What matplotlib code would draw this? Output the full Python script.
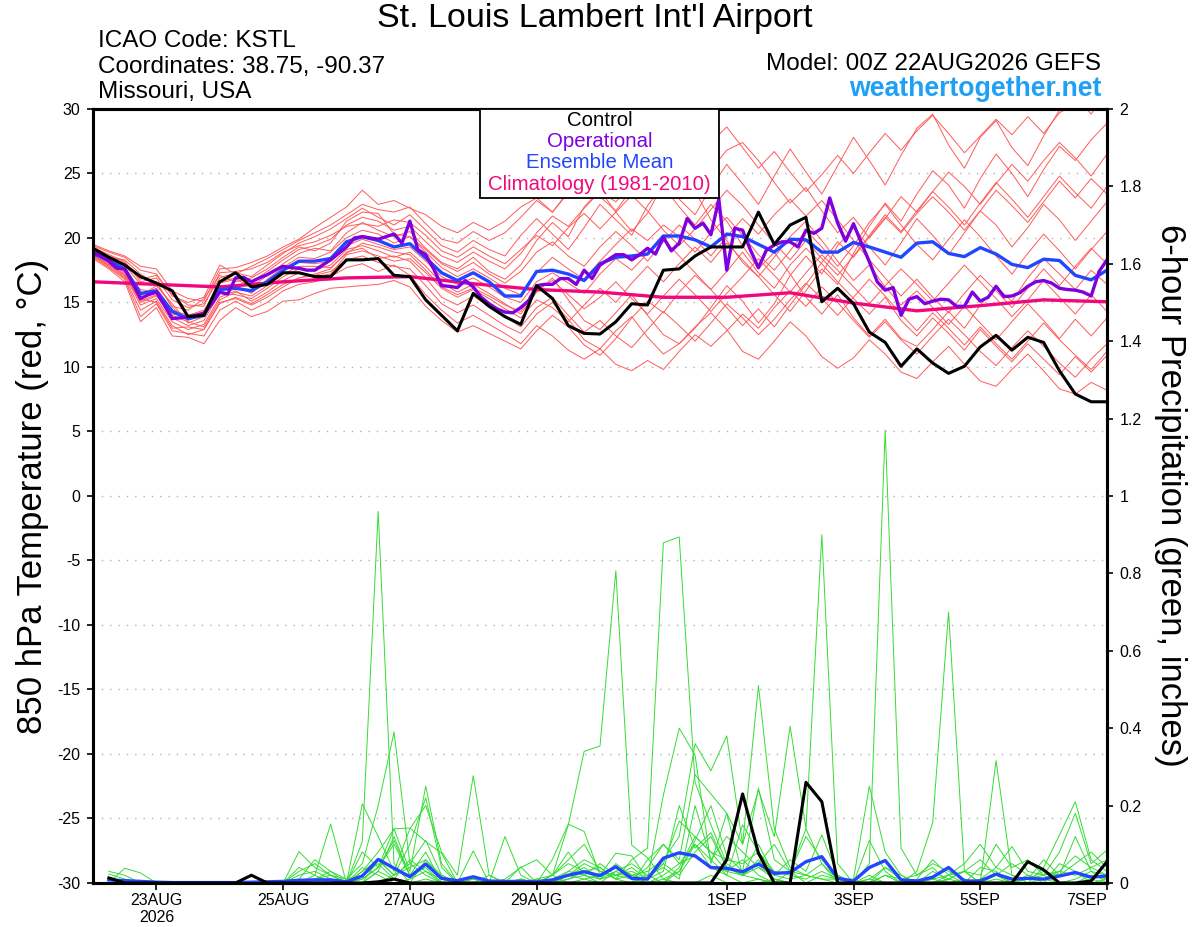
import matplotlib
matplotlib.use('Agg')
import matplotlib.pyplot as plt
from matplotlib.patches import Rectangle

plt.rcParams['font.family'] = ['Liberation Sans', 'DejaVu Sans']
plt.rcParams['axes.unicode_minus'] = False

# forecast hours after 00Z 22AUG2026
temp_hours = list(range(0, 385, 6))
oper_hours = list(range(0, 385, 3))
clim_hours = list(range(0, 385, 24))
precip_hours = list(range(6, 385, 6))

control_temp = [19.2, 18.5, 17.9, 17.0, 16.5, 15.9, 13.9, 14.0, 16.6, 17.3, 16.2, 16.4, 17.3,
                17.3, 17.0, 17.0, 18.3, 18.3, 18.4, 17.1, 17.0, 15.2, 14.0, 12.8, 15.7, 14.7,
                13.9, 13.3, 16.3, 15.3, 13.2, 12.6, 12.55, 13.5, 14.9, 14.8, 17.5, 17.6, 18.6,
                19.3, 19.3, 19.3, 22.0, 19.5, 21.0, 21.6, 15.05, 16.1, 14.9, 12.7, 11.9, 10.05,
                11.4, 10.3, 9.5, 10.05, 11.55, 12.45, 11.3, 12.3, 11.9, 9.7, 7.9, 7.3, 7.3]

mean_temp = [18.8, 18.25, 17.6, 15.7, 15.9, 14.3, 13.75, 14.0, 16.0, 16.1, 15.9, 16.6, 17.5,
             18.2, 18.2, 18.4, 19.7, 20.1, 19.8, 19.3, 19.55, 18.45, 17.3, 16.7, 17.3, 16.6,
             15.5, 15.5, 17.4, 17.5, 17.2, 16.7, 18.0, 18.5, 18.6, 18.75, 20.15, 20.15, 19.85,
             19.3, 20.3, 20.1, 19.5, 18.9, 19.9, 19.85, 18.9, 18.9, 19.65, 19.3, 18.9, 18.5,
             19.6, 19.7, 18.8, 18.55, 19.25, 18.75, 17.95, 17.7, 18.35, 18.25, 17.1, 16.75, 17.5]

oper_temp = [18.9, 18.6, 18.2, 17.65, 17.6, 16.5, 15.3, 15.6, 15.8, 14.8, 13.75, 13.8, 13.9,
             14.0, 14.15, 14.9, 15.8, 15.65, 16.9, 16.95, 16.6, 16.9, 17.15, 17.5, 17.8, 17.7,
             17.65, 17.5, 17.5, 17.9, 18.3, 18.8, 19.3, 20.0, 20.1, 20.0, 19.9, 20.1, 20.3,
             19.6, 21.3, 19.1, 18.7,
             17.6, 16.3, 16.25, 16.15, 16.7, 16.2, 15.4, 14.9, 14.5, 14.25, 14.2, 14.6, 15.15,
             16.3, 16.4, 16.4, 16.85, 16.85, 16.4, 17.5, 16.85, 17.9, 18.3, 18.7, 18.7, 18.3,
             18.7, 19.2, 18.75, 20.05, 19.0, 19.6, 21.5, 20.75, 21.15, 20.25, 23.0, 17.5, 20.75,
             20.6, 19.05, 17.7,
             19.05, 19.45, 19.7, 19.7, 19.3, 20.6, 20.35, 20.75, 23.1, 21.15, 19.75, 21.1, 19.6,
             18.15, 16.6, 15.95, 16.15, 14.0, 15.25, 15.45, 14.9, 15.1, 15.25, 15.2, 14.7, 14.7,
             15.8, 15.1, 15.4, 16.25, 15.45, 15.5, 15.75, 16.25, 16.6, 16.7, 16.5, 16.1, 16.0,
             15.95, 15.8, 15.5, 17.4, 18.3]

clim_temp = [16.6, 16.4, 16.2, 16.6, 16.9, 17.0, 16.45, 16.0, 15.8, 15.4, 15.4, 15.75, 14.95,
             14.35, 14.75, 15.2, 15.05]

member_temps = [
    [19.3, 18.7, 18.2, 16.6, 16.9, 15.2, 14.6, 14.9, 16.9, 17.3, 17.0, 17.9, 18.8,
     19.6, 20.1, 20.7, 21.5, 22.3, 21.6, 21.0, 21.8, 20.6, 19.4, 18.9, 19.8, 19.1,
     18.6, 20.2, 21.5, 20.3, 19.1, 20.8, 22.6, 21.4, 20.2, 22.5, 24.1, 23.0, 21.8,
     23.9, 25.7, 24.2, 22.6, 24.8, 26.9, 25.1, 23.4, 25.6, 27.8, 26.0, 24.1, 26.4,
     28.5, 29.6, 27.2, 25.4, 27.8, 29.1, 27.0, 25.6, 27.9, 29.9, 31.0, 29.6, 31.5],
    [18.6, 17.8, 16.9, 14.4, 15.1, 13.2, 12.5, 12.9, 15.0, 15.3, 14.8, 15.4, 16.2,
     16.9, 17.1, 17.4, 18.3, 18.6, 18.1, 17.8, 17.6, 16.3, 14.9, 14.2, 14.8, 14.0,
     13.2, 12.6, 14.1, 15.0, 13.7, 12.1, 11.4, 12.8, 13.9, 12.3, 11.0, 11.8, 13.1,
     14.2, 12.9, 11.2, 10.6, 12.0, 13.5, 12.4, 10.8, 9.9, 10.7, 12.1, 11.0, 9.6,
     9.1, 10.4, 11.6, 10.2, 8.9, 8.5, 9.8, 11.0, 9.7, 8.3, 7.9, 8.8, 8.2],
    [19.0, 18.4, 17.8, 15.5, 16.3, 14.9, 13.4, 13.9, 16.5, 16.8, 16.2, 17.1, 18.0,
     18.8, 19.2, 19.0, 20.4, 21.2, 20.6, 20.1, 20.5, 19.2, 18.1, 17.6, 18.5, 17.4,
     16.8, 17.9, 19.8, 21.2, 20.1, 22.4, 23.7, 22.0, 20.5, 21.9, 24.2, 25.1, 23.6,
     21.4, 19.8, 18.1, 17.0, 15.6, 14.3, 15.9, 17.6, 16.4, 18.8, 20.9, 22.7, 21.3,
     23.4, 25.2, 24.1, 22.3, 24.6, 26.5, 25.0, 23.2, 25.3, 27.1, 26.0, 27.6, 28.9],
    [18.7, 18.1, 17.3, 15.1, 15.6, 13.8, 13.2, 13.6, 15.7, 15.6, 15.3, 16.1, 17.0,
     17.6, 17.5, 17.9, 19.1, 19.4, 19.0, 18.5, 18.9, 17.8, 16.5, 15.8, 16.4, 15.7,
     14.9, 14.1, 15.8, 16.9, 15.2, 13.6, 12.9, 14.2, 15.6, 14.0, 12.5, 11.8, 13.0,
     14.6, 16.3, 15.1, 13.4, 14.9, 17.1, 18.6, 17.2, 19.4, 20.8, 19.3, 17.9, 19.6,
     21.5, 20.2, 18.7, 20.4, 22.1, 21.0, 19.3, 20.8, 22.6, 21.4, 19.8, 21.3, 22.8],
    [19.5, 19.0, 18.6, 17.8, 17.6, 15.9, 15.3, 15.1, 17.6, 17.7, 18.1, 18.6, 19.3,
     19.9, 20.8, 21.6, 22.4, 23.7, 22.6, 22.9, 22.3, 21.8, 20.9, 20.4, 21.2, 20.6,
     21.3, 22.4, 23.1, 22.0, 23.6, 24.6, 23.2, 22.1, 23.8, 25.0, 24.0, 22.4, 21.0,
     22.6, 21.3, 19.4, 17.6, 18.9, 17.2, 15.4, 14.1, 15.6, 13.8, 12.4, 13.7, 12.2,
     11.6, 12.9, 14.3, 13.0, 14.8, 16.2, 15.1, 16.9, 18.4, 17.2, 16.0, 17.5, 16.4],
    [18.4, 17.6, 16.6, 13.5, 14.6, 12.4, 12.3, 11.8, 13.6, 14.6, 13.9, 14.3, 15.1,
     15.2, 15.7, 16.1, 16.2, 16.3, 16.4, 16.7, 16.2, 14.7, 13.6, 12.7, 13.2, 12.6,
     12.0, 11.4, 12.8, 14.0, 13.1, 11.7, 10.9, 12.2, 13.8, 15.1, 14.2, 15.8, 17.1,
     16.0, 17.4, 18.9, 17.3, 16.1, 17.9, 19.2, 18.0, 16.6, 15.3, 14.1, 15.4, 13.6,
     12.4, 13.8, 12.6, 11.3, 12.9, 11.6, 10.4, 11.8, 10.6, 9.4, 10.8, 9.6, 10.9],
    [18.9, 18.3, 17.5, 16.0, 15.8, 14.1, 13.9, 14.3, 16.2, 16.3, 15.7, 16.8, 17.7,
     18.5, 18.4, 18.9, 20.0, 20.6, 20.3, 19.6, 20.1, 18.9, 17.7, 17.0, 17.6, 16.9,
     16.1, 15.6, 17.3, 18.5, 17.6, 16.8, 18.2, 19.5, 20.7, 19.8, 21.0, 20.1, 18.9,
     20.4, 21.6, 20.2, 18.7, 17.5, 19.0, 20.6, 19.3, 17.8, 19.4, 21.2, 22.6, 21.0,
     19.5, 18.3, 19.9, 21.4, 20.1, 18.6, 17.2, 18.8, 20.3, 19.0, 17.6, 19.1, 20.5],
    [19.1, 18.5, 17.9, 16.4, 16.6, 14.6, 13.6, 14.1, 16.6, 16.9, 16.6, 17.4, 18.3,
     19.1, 19.4, 19.9, 21.0, 21.6, 21.3, 20.6, 20.9, 19.7, 18.6, 18.1, 18.9, 18.2,
     17.6, 18.8, 20.4, 21.7, 20.9, 22.3, 23.6, 22.8, 24.1, 25.2, 24.0, 25.6, 26.4,
     25.3, 26.8, 27.4, 26.0, 24.3, 22.7, 23.9, 22.1, 20.4, 21.6, 20.0, 21.5, 23.2,
     22.0, 23.6, 25.1, 24.0, 22.6, 24.2, 25.7, 24.4, 26.0, 27.4, 26.2, 24.8, 26.5],
    [18.5, 17.7, 16.8, 13.9, 14.9, 12.8, 12.6, 12.4, 14.4, 15.1, 14.4, 15.0, 15.9,
     16.4, 16.6, 17.0, 17.7, 18.0, 17.4, 17.9, 17.1, 15.6, 14.4, 13.4, 14.0, 13.3,
     12.6, 11.8, 13.2, 12.4, 11.3, 10.6, 11.4, 10.2, 9.7, 10.5, 9.8, 11.2, 12.5,
     11.6, 12.8, 14.1, 13.0, 14.6, 15.9, 14.7, 16.2, 15.0, 13.6, 12.3, 13.5, 12.1,
     11.0, 12.4, 13.7, 12.5, 11.2, 10.1, 11.5, 12.8, 11.6, 10.3, 9.2, 10.6, 11.8],
    [18.8, 18.0, 17.1, 14.8, 15.3, 13.5, 12.9, 13.3, 15.4, 15.9, 15.1, 15.8, 16.7,
     17.3, 17.0, 17.2, 18.7, 19.0, 18.6, 18.2, 18.4, 17.3, 16.1, 15.4, 16.0, 15.3,
     14.5, 13.8, 15.2, 14.6, 13.5, 14.8, 16.1, 15.0, 16.5, 17.8, 16.6, 18.0, 19.3,
     18.1, 19.6, 18.3, 17.0, 18.5, 20.1, 21.3, 19.8, 18.2, 16.7, 17.9, 16.2, 14.8,
     15.9, 14.6, 13.3, 14.7, 13.4, 12.1, 13.5, 14.9, 13.6, 12.2, 13.7, 12.4, 13.8],
    [19.2, 18.6, 18.1, 16.8, 17.1, 15.6, 14.8, 14.7, 17.3, 17.4, 17.6, 18.1, 18.9,
     19.4, 19.7, 20.2, 20.9, 21.1, 20.9, 21.4, 21.2, 20.2, 19.0, 18.5, 19.3, 18.6,
     18.0, 19.1, 20.2, 19.4, 20.8, 21.9, 20.7, 22.0, 23.3, 22.1, 20.6, 19.4, 20.7,
     22.2, 23.7, 22.5, 21.0, 19.6, 18.3, 19.8, 18.4, 17.1, 18.6, 20.2, 21.8, 20.5,
     22.1, 23.6, 22.4, 21.0, 22.7, 24.3, 23.0, 21.6, 23.2, 24.8, 23.5, 22.3, 24.0],
    [18.6, 17.9, 17.0, 15.3, 15.0, 13.0, 13.1, 12.9, 14.9, 15.4, 14.9, 15.6, 16.4,
     16.9, 17.2, 17.6, 18.9, 19.2, 18.4, 18.6, 18.2, 16.9, 15.4, 14.8, 15.5, 14.7,
     13.9, 13.1, 14.6, 15.4, 14.0, 12.7, 13.6, 12.4, 11.5, 12.9, 14.3, 13.2, 12.0,
     13.4, 14.9, 13.8, 12.5, 13.7, 15.2, 16.5, 15.3, 14.0, 15.4, 16.8, 15.5, 14.1,
     12.8, 14.2, 13.0, 11.7, 13.1, 11.8, 10.6, 12.0, 13.4, 12.1, 10.9, 9.8, 11.2],
    [18.9, 18.2, 17.4, 15.6, 16.1, 14.4, 14.0, 14.4, 16.3, 16.0, 16.0, 16.6, 17.5,
     18.1, 18.0, 18.2, 19.4, 19.9, 19.5, 19.1, 19.3, 18.2, 17.0, 16.4, 16.9, 16.2,
     15.4, 15.0, 16.6, 17.3, 16.5, 15.7, 17.2, 18.4, 17.5, 18.8, 19.9, 18.6, 17.3,
     16.0, 14.6, 13.2, 14.5, 13.1, 14.8, 16.4, 18.1, 19.7, 18.5, 20.1, 21.6, 20.4,
     21.9, 23.2, 22.0, 20.6, 22.1, 23.7, 22.5, 21.2, 22.8, 24.4, 23.1, 24.6, 23.4],
    [19.0, 18.5, 18.3, 17.2, 16.4, 14.7, 14.4, 15.3, 17.1, 16.6, 16.9, 17.6, 18.5,
     19.3, 19.0, 19.6, 21.3, 22.0, 21.9, 20.3, 20.1, 19.1, 18.0, 17.4, 18.1, 17.2,
     16.5, 17.4, 18.9, 19.7, 18.6, 17.8, 19.3, 20.5, 19.4, 18.2, 19.7, 21.0, 19.9,
     18.6, 20.1, 21.5, 20.3, 21.8, 23.0, 21.7, 22.9, 21.4, 19.8, 18.3, 16.9, 15.5,
     16.8, 15.4, 14.2, 15.7, 17.1, 15.9, 14.6, 16.1, 17.6, 16.3, 17.8, 19.2, 18.0],
    [19.4, 18.9, 18.5, 17.5, 17.2, 15.5, 15.0, 15.4, 17.9, 17.2, 17.8, 18.4, 19.1,
     19.8, 20.4, 21.0, 21.8, 22.6, 22.2, 22.0, 22.4, 21.1, 19.9, 19.6, 20.5, 19.8,
     20.4, 21.6, 22.9, 22.0, 23.5, 24.8, 23.7, 25.1, 26.3, 25.0, 26.6, 27.5, 26.2,
     27.4, 28.6, 27.0, 25.4, 26.7, 25.1, 23.6, 24.9, 26.4, 25.0, 26.6, 28.1, 26.8,
     28.3, 29.5, 28.1, 26.6, 27.9, 29.2, 28.0, 29.4, 28.1, 29.7, 30.4, 31.2, 32.0],
    [18.7, 17.9, 17.2, 15.0, 15.5, 14.0, 13.5, 13.1, 15.2, 15.8, 15.5, 16.3, 17.2,
     17.8, 17.8, 17.7, 18.8, 19.6, 19.3, 18.9, 18.7, 17.5, 16.2, 15.6, 16.1, 15.5,
     14.8, 14.3, 15.9, 16.7, 15.6, 14.5, 15.4, 16.6, 15.3, 14.1, 15.5, 16.8, 15.6,
     14.3, 15.7, 17.0, 18.4, 17.1, 15.8, 17.3, 18.7, 17.5, 16.2, 14.9, 16.3, 17.6,
     16.4, 15.1, 16.5, 17.9, 16.6, 15.3, 13.9, 15.2, 16.7, 15.4, 14.1, 15.6, 14.3],
]

control_precip = [0.013, 0, 0, 0, 0, 0, 0, 0, 0, 0.02, 0, 0, 0, 0, 0, 0,
                  0, 0.003, 0.01, 0, 0, 0, 0, 0, 0, 0, 0, 0, 0, 0, 0, 0,
                  0, 0, 0, 0, 0, 0, 0, 0.06, 0.23, 0.077, 0, 0, 0.26, 0.21, 0, 0,
                  0, 0, 0, 0, 0, 0, 0, 0, 0, 0, 0.055, 0.034, 0, 0, 0.005, 0.055]

mean_precip = [0.008, 0.006, 0.004, 0.002, 0.001, 0.001, 0.001, 0.001, 0.001, 0.002, 0.003, 0.004, 0.007, 0.008, 0.008, 0.003,
               0.018, 0.061, 0.038, 0.016, 0.049, 0.012, 0.006, 0.016, 0.005, 0.004, 0.004, 0.003, 0.008, 0.02, 0.029, 0.019,
               0.042, 0.012, 0.01, 0.064, 0.078, 0.07, 0.04, 0.038, 0.029, 0.049, 0.025, 0.027, 0.055, 0.068, 0.012, 0.005,
               0.04, 0.058, 0.008, 0.005, 0.015, 0.04, 0.005, 0.005, 0.023, 0.01, 0.012, 0.01, 0.018, 0.027, 0.015, 0.018]

member_precip = [
    [0, 0, 0, 0, 0, 0, 0, 0, 0, 0, 0, 0, 0.02, 0.03, 0.01, 0,
     0.107, 0.96, 0.05, 0, 0.01, 0, 0, 0, 0, 0, 0, 0, 0.01, 0.03, 0.02, 0,
     0, 0, 0, 0.02, 0.05, 0.1, 0.04, 0.02, 0, 0, 0.01, 0, 0, 0, 0, 0,
     0, 0, 0, 0, 0, 0.01, 0.03, 0, 0, 0, 0, 0, 0, 0, 0.02, 0.01],
    [0.023, 0.01, 0, 0, 0, 0, 0, 0, 0, 0, 0, 0, 0, 0.01, 0.02, 0.01,
     0.05, 0.2, 0.39, 0.05, 0.02, 0, 0, 0.01, 0, 0, 0, 0, 0, 0.02, 0.01, 0,
     0.03, 0.01, 0, 0, 0.04, 0.12, 0.08, 0.03, 0.06, 0.02, 0, 0, 0, 0, 0, 0,
     0, 0.02, 0.01, 0, 0, 0, 0, 0, 0, 0, 0, 0.01, 0, 0, 0, 0],
    [0, 0.038, 0.026, 0, 0, 0, 0, 0, 0, 0, 0, 0, 0, 0, 0, 0,
     0.03, 0.08, 0.14, 0.03, 0.25, 0.05, 0, 0, 0, 0, 0.01, 0, 0.02, 0.15, 0.34, 0.354,
     0.807, 0.098, 0.065, 0.01, 0, 0, 0.02, 0, 0, 0.01, 0, 0, 0, 0, 0, 0,
     0, 0, 0, 0, 0, 0, 0, 0, 0, 0, 0, 0, 0, 0, 0, 0.01],
    [0, 0, 0, 0, 0, 0, 0, 0, 0, 0, 0, 0, 0, 0, 0, 0,
     0, 0.06, 0.02, 0.1, 0.22, 0.04, 0, 0, 0, 0, 0, 0, 0, 0.02, 0.05, 0.03,
     0.01, 0.06, 0.09, 0.879, 0.894, 0.26, 0.15, 0.05, 0.02, 0.04, 0.01, 0, 0, 0, 0, 0,
     0, 0, 0, 0, 0, 0, 0, 0.01, 0.02, 0, 0, 0, 0, 0, 0, 0],
    [0, 0, 0, 0, 0, 0, 0, 0, 0, 0, 0, 0, 0.081, 0.04, 0.02, 0,
     0.204, 0.12, 0.03, 0.14, 0.2, 0.08, 0.02, 0.277, 0.02, 0, 0, 0, 0.061, 0.152, 0.133, 0.02,
     0.077, 0.07, 0.01, 0.227, 0.40, 0.33, 0.05, 0.18, 0.02, 0.01, 0, 0.03, 0, 0, 0, 0,
     0, 0, 0, 0, 0, 0.02, 0, 0.04, 0.03, 0, 0, 0, 0.05, 0.03, 0, 0],
    [0, 0, 0, 0, 0, 0, 0, 0, 0, 0, 0, 0, 0, 0.01, 0.03, 0.01,
     0.02, 0.05, 0.01, 0, 0.06, 0.02, 0, 0.01, 0, 0.12, 0.02, 0, 0, 0.03, 0.06, 0.04,
     0.01, 0.02, 0.03, 0.06, 0.12, 0.36, 0.29, 0.38, 0.1, 0.51, 0.14, 0.04, 0.02, 0.01, 0, 0,
     0, 0, 0, 0, 0, 0, 0.01, 0, 0, 0, 0, 0, 0, 0.01, 0.03, 0.02],
    [0, 0, 0, 0, 0, 0, 0, 0, 0, 0, 0, 0, 0, 0, 0, 0,
     0, 0.03, 0.12, 0.02, 0.04, 0, 0, 0, 0, 0, 0, 0.01, 0, 0.01, 0.02, 0.05,
     0.02, 0.01, 0.04, 0.1, 0.06, 0.28, 0.23, 0.18, 0.1, 0.24, 0.12, 0.405, 0.14, 0.90, 0.05, 0,
     0, 0.02, 0, 0, 0.01, 0, 0, 0, 0, 0, 0.01, 0.02, 0, 0, 0, 0],
    [0, 0, 0, 0, 0, 0, 0, 0, 0, 0, 0, 0, 0.03, 0.05, 0.02, 0,
     0.04, 0.02, 0, 0.01, 0.03, 0.01, 0, 0, 0, 0, 0, 0, 0, 0, 0.01, 0.02,
     0.04, 0.02, 0.01, 0.05, 0.02, 0.08, 0.12, 0.04, 0.02, 0.1, 0.02, 0.01, 0.02, 0.05, 0.01, 0,
     0.05, 1.17, 0.09, 0.02, 0.04, 0, 0, 0, 0.01, 0, 0.02, 0, 0, 0, 0.01, 0],
    [0, 0, 0, 0, 0, 0, 0, 0, 0, 0, 0, 0, 0, 0, 0, 0,
     0, 0, 0.02, 0.05, 0.11, 0.02, 0, 0, 0, 0.01, 0.04, 0.06, 0.02, 0, 0, 0,
     0, 0, 0.02, 0.04, 0.01, 0.2, 0.06, 0.02, 0.15, 0.08, 0.02, 0.03, 0.12, 0.06, 0.02, 0,
     0.01, 0, 0, 0.03, 0.156, 0.70, 0.03, 0.02, 0.1, 0.04, 0.06, 0.02, 0.03, 0.07, 0.04, 0.02],
    [0, 0, 0, 0, 0, 0, 0, 0, 0, 0, 0, 0, 0, 0, 0, 0,
     0.01, 0.04, 0.1, 0.02, 0.08, 0, 0, 0, 0, 0, 0, 0, 0.02, 0.05, 0.03, 0.01,
     0.05, 0.02, 0, 0.01, 0.03, 0.11, 0.2, 0.07, 0.03, 0.245, 0.06, 0.03, 0.14, 0.05, 0, 0,
     0.11, 0.03, 0, 0.01, 0.06, 0.02, 0.03, 0, 0.316, 0.02, 0, 0.04, 0.124, 0.21, 0.06, 0.03],
    [0.03, 0.02, 0, 0, 0, 0, 0, 0, 0, 0, 0, 0, 0.01, 0.06, 0.03, 0,
     0.08, 0.04, 0.14, 0.142, 0.107, 0.077, 0, 0.083, 0, 0, 0.042, 0, 0.01, 0.02, 0.04, 0.01,
     0.03, 0.05, 0.02, 0, 0.03, 0.1, 0.06, 0.12, 0.08, 0.04, 0.02, 0.06, 0.03, 0.124, 0.02, 0,
     0.02, 0, 0, 0, 0.01, 0.02, 0.05, 0.1, 0.04, 0.094, 0.03, 0.02, 0.08, 0.18, 0.05, 0.085],
    [0, 0, 0, 0, 0, 0, 0, 0, 0, 0, 0, 0, 0, 0.02, 0.152, 0,
     0.03, 0.06, 0.02, 0.04, 0.06, 0.01, 0, 0, 0, 0, 0.01, 0, 0.02, 0.08, 0.02, 0.01,
     0.02, 0.03, 0.01, 0.05, 0.16, 0.12, 0.08, 0.06, 0.05, 0.08, 0.03, 0.02, 0.01, 0.03, 0.01, 0,
     0, 0.04, 0.02, 0, 0.03, 0.01, 0, 0.01, 0.04, 0.02, 0.01, 0.06, 0.02, 0.12, 0.03, 0],
    [0, 0, 0, 0, 0, 0, 0, 0, 0, 0, 0, 0, 0.04, 0.02, 0, 0,
     0, 0.03, 0.01, 0.06, 0.03, 0, 0, 0, 0, 0, 0, 0, 0, 0.01, 0.03, 0.04,
     0.01, 0, 0.06, 0.1, 0.05, 0.07, 0.04, 0.03, 0.02, 0.06, 0.01, 0, 0, 0.02, 0.01, 0.01,
     0.25, 0.08, 0.02, 0, 0, 0.01, 0.03, 0.06, 0.02, 0, 0.01, 0.03, 0.02, 0.05, 0.08, 0.04],
    [0, 0, 0, 0, 0, 0, 0, 0, 0, 0, 0, 0, 0, 0, 0, 0,
     0.01, 0.04, 0.11, 0.02, 0.05, 0.01, 0, 0, 0.02, 0, 0, 0.01, 0.02, 0.06, 0.1, 0.03,
     0.02, 0.04, 0.01, 0.03, 0.2, 0.09, 0.13, 0.04, 0.02, 0.05, 0.1, 0.03, 0.02, 0.01, 0.01, 0,
     0.01, 0.04, 0.01, 0.02, 0.05, 0.03, 0.01, 0, 0.02, 0.05, 0.02, 0.01, 0.03, 0.02, 0.04, 0.06],
]

tick_hours = [24, 72, 120, 168, 240, 288, 336, 384]
tick_labels = ['23AUG\n2026', '25AUG', '27AUG', '29AUG', '1SEP', '3SEP', '5SEP', '7SEP']
temp_ticks = list(range(-30, 31, 5))
precip_ticks = [0, 0.2, 0.4, 0.6, 0.8, 1, 1.2, 1.4, 1.6, 1.8, 2]
precip_tick_labels = ['0', '0.2', '0.4', '0.6', '0.8', '1', '1.2', '1.4', '1.6', '1.8', '2']

red = '#ff5a5a'
green = '#33dd33'
purple = '#7f00dc'
blue = '#2246ff'
pink = '#f0087f'

fig = plt.figure(figsize=(12, 9.27), dpi=100)
ax1 = fig.add_axes([0.0775, 0.0475, 0.845, 0.835])
ax2 = ax1.twinx()

for m in member_temps:
    n = min(len(m), len(temp_hours))
    ax1.plot(temp_hours[:n], m[:n], color=red, lw=0.7)
ax1.plot(clim_hours, clim_temp, color=pink, lw=2.4)
ax1.plot(temp_hours, mean_temp, color=blue, lw=2.4)
ax1.plot(oper_hours, oper_temp, color=purple, lw=2.4)
ax1.plot(temp_hours, control_temp, color='black', lw=2.2)

for m in member_precip:
    n = min(len(m), len(precip_hours))
    ax2.plot(precip_hours[:n], m[:n], color=green, lw=0.7)
ax2.plot(precip_hours, mean_precip, color=blue, lw=2.4)
ax2.plot(precip_hours, control_precip, color='black', lw=2.2)

ax1.set_xlim(0, 384)
ax1.set_ylim(-30, 30)
ax2.set_ylim(0, 2)

ax1.set_yticks(temp_ticks)
ax1.set_yticklabels([str(t) for t in temp_ticks])
ax2.set_yticks(precip_ticks)
ax2.set_yticklabels(precip_tick_labels)
ax1.set_xticks(tick_hours)
ax1.set_xticklabels(tick_labels)
ax1.get_xticklabels()[-1].set_horizontalalignment('right')

ax1.tick_params(axis='y', length=4, width=1.2, pad=5, labelsize=11.5)
ax2.tick_params(axis='y', length=4, width=1.2, pad=5, labelsize=11.5)
ax1.tick_params(axis='x', length=5, width=1.2, pad=2, labelsize=11.5)

for y in temp_ticks[1:-1]:
    ax1.axhline(y, color='#b0b0b0', lw=1, ls=(0, (1, 5)), zorder=0)

for ax in (ax1, ax2):
    for s in ax.spines.values():
        s.set_linewidth(2.2)

# legend box
ax2.add_patch(Rectangle((0.3817, 0.885), 0.2357, 0.115, transform=ax2.transAxes,
                        facecolor='white', edgecolor='black', lw=1.3, zorder=10))
legend_items = [('Control', 'black', 0.9774), ('Operational', purple, 0.9503),
                ('Ensemble Mean', blue, 0.9231), ('Climatology (1981-2010)', pink, 0.8947)]
for label, col, yy in legend_items:
    ax2.text(0.4995, yy, label, color=col, fontsize=14.7, ha='center', va='baseline',
             transform=ax2.transAxes, zorder=11)

fig.text(0.496, 0.9706, "St. Louis Lambert Int'l Airport", fontsize=24.5, ha='center', va='baseline')
fig.text(0.0817, 0.9496, 'ICAO Code: KSTL', fontsize=17.5, ha='left', va='baseline')
fig.text(0.0817, 0.9216, 'Coordinates: 38.75, -90.37', fontsize=17.5, ha='left', va='baseline')
fig.text(0.0817, 0.8940, 'Missouri, USA', fontsize=17.5, ha='left', va='baseline')
fig.text(0.9175, 0.9240, 'Model: 00Z 22AUG2026 GEFS', fontsize=17.5, ha='right', va='baseline')
fig.text(0.9175, 0.8964, 'weathertogether.net', fontsize=19.2, ha='right', va='baseline',
         color='#1ea0f5', fontweight='bold')

fig.text(0.0267, 0.4644, '850 hPa Temperature (red, \u00b0C)', fontsize=25, rotation=90,
         ha='center', va='center')
fig.text(0.975, 0.466, '6-hour Precipitation (green, inches)', fontsize=25, rotation=270,
         ha='center', va='center')

fig.savefig('out.png', dpi=100)
